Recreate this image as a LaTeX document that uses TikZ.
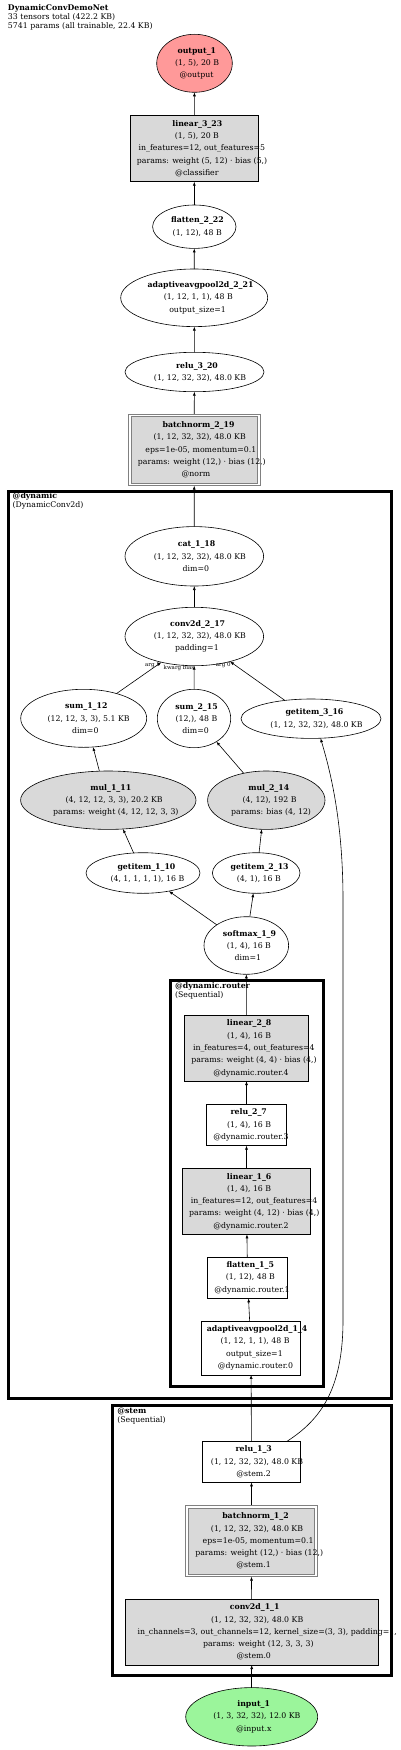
\documentclass[tikz,border=0pt]{standalone}
\usepackage{fontspec}
\setmainfont{DejaVu Serif}
\usetikzlibrary{shapes.geometric,arrows.meta}
\definecolor{nodegray}{HTML}{D9D9D9}
\definecolor{outpink}{HTML}{FF9999}
\definecolor{ingreen}{HTML}{9BF59B}
\definecolor{dblgray}{HTML}{808080}
\newcommand{\gl}[1]{\setbox0=\hbox{#1}\hspace*{0.12\wd0}\box0}
\begin{document}
\begin{tikzpicture}[x=1pt,y=-1pt,
  every node/.style={inner sep=0pt, outer sep=0pt},
  sz/.style 2 args={minimum width=#1pt, minimum height=#2pt},
  shp/.style={draw=black, line width=0.6pt},
  ell/.style={shp, ellipse},
  rbox/.style={shp, rectangle},
  gfill/.style={fill=nodegray},
  dblbox/.style={rectangle, draw=dblgray, line width=0.6pt, fill=nodegray},
  dblouter/.style={draw=dblgray, line width=0.6pt},
  txt/.style={font=\fontsize{7.8pt}{12.3pt}\selectfont, align=center, inner sep=0pt},
  clab/.style={font=\fontsize{7.8pt}{9pt}\selectfont, align=left, anchor=north west, inner sep=0pt},
  cluster/.style={draw=black, line width=3pt},
  arr/.style={-{Latex[length=4pt,width=3pt]}, line width=0.6pt},
  elab/.style={font=\fontsize{5.5pt}{6pt}\selectfont, inner sep=0pt}
]
\useasboundingbox (0,0) rectangle (400,1750);

% title
\node[clab] (title) at (8,5) {\textbf{DynamicConvDemoNet}\\33 tensors total (422.2 KB)\\5741 params (all trainable, 22.4 KB)};

% clusters
\draw[cluster] (8.3,491) rectangle (391.3,1398.7);
\node[clab] (labdyn) at (12.7,492.5) {\textbf{@dynamic}\\(DynamicConv2d)};
\draw[cluster] (170.7,980.7) rectangle (323.7,1386.8);
\node[clab] (labrouter) at (175,982.5) {\textbf{@dynamic.router}\\(Sequential)};
\draw[cluster] (112.5,1405.3) rectangle (391.3,1675.7);
\node[clab] (labstem) at (117.3,1408.2) {\textbf{@stem}\\(Sequential)};

% nodes
\node[ell, fill=outpink, sz={75.6}{58}, label={[txt]center:{\gl{\textbf{output\_1}}\\\gl{(1, 5), 20 B}\\\gl{@output}}}] (out1) at (194.5,63.3) {};
\node[rbox, gfill, sz={128.7}{66}, label={[txt]center:{\gl{\textbf{linear\_3\_23}}\\\gl{(1, 5), 20 B}\\\gl{in\_features=12, out\_features=5}\\\gl{params: weight (5, 12) · bias (5,)}\\\gl{@classifier}}}] (lin323) at (194.3,148.7) {};
\node[ell, sz={83.4}{43.4}, label={[txt]center:{\gl{\textbf{flatten\_2\_22}}\\\gl{(1, 12), 48 B}}}] (flat222) at (194.3,226.7) {};
\node[ell, sz={147}{57.6}, label={[txt]center:{\gl{\textbf{adaptiveavgpool2d\_2\_21}}\\\gl{(1, 12, 1, 1), 48 B}\\\gl{output\_size=1}}}] (aap221) at (194.2,297.8) {};
\node[ell, sz={139}{39.4}, label={[txt]center:{\gl{\textbf{relu\_3\_20}}\\\gl{(1, 12, 32, 32), 48.0 KB}}}] (relu320) at (194.5,372) {};
\node[dblbox, sz={126.5}{66.5}, label={[txt]center:{\gl{\textbf{batchnorm\_2\_19}}\\\gl{(1, 12, 32, 32), 48.0 KB}\\\gl{eps=1e-05, momentum=0.1}\\\gl{params: weight (12,) · bias (12,)}\\\gl{@norm}}}] (bn219) at (194.2,449.8) {};
\draw[dblouter] ([shift={(-2.6pt,2.6pt)}]bn219.north west) rectangle ([shift={(2.6pt,-2.6pt)}]bn219.south east);
\node[ell, sz={138.6}{59.4}, label={[txt]center:{\gl{\textbf{cat\_1\_18}}\\\gl{(1, 12, 32, 32), 48.0 KB}\\\gl{dim=0}}}] (cat118) at (194.3,556.3) {};
\node[ell, sz={138.6}{58.4}, label={[txt]center:{\gl{\textbf{conv2d\_2\_17}}\\\gl{(1, 12, 32, 32), 48.0 KB}\\\gl{padding=1}}}] (conv217) at (194.3,636.5) {};
\node[ell, sz={126}{58}, label={[txt]center:{\gl{\textbf{sum\_1\_12}}\\\gl{(12, 12, 3, 3), 5.1 KB}\\\gl{dim=0}}}] (sum112) at (83.7,718.3) {};
\node[ell, sz={73.4}{58.4}, label={[txt]center:{\gl{\textbf{sum\_2\_15}}\\\gl{(12,), 48 B}\\\gl{dim=0}}}] (sum215) at (194,718.5) {};
\node[ell, sz={140}{39.4}, label={[txt]center:{\gl{\textbf{getitem\_3\_16}}\\\gl{(1, 12, 32, 32), 48.0 KB}}}] (gi316) at (311,718.7) {};
\node[ell, gfill, sz={175.4}{58.4}, label={[txt]center:{\gl{\textbf{mul\_1\_11}}\\\gl{(4, 12, 12, 3, 3), 20.2 KB}\\\gl{params: weight (4, 12, 12, 3, 3)}}}] (mul111) at (108.3,800.2) {};
\node[ell, gfill, sz={117.4}{58.4}, label={[txt]center:{\gl{\textbf{mul\_2\_14}}\\\gl{(4, 12), 192 B}\\\gl{params: bias (4, 12)}}}] (mul214) at (266.3,800.2) {};
\node[ell, sz={114}{40.6}, label={[txt]center:{\gl{\textbf{getitem\_1\_10}}\\\gl{(4, 1, 1, 1, 1), 16 B}}}] (gi110) at (143,873) {};
\node[ell, sz={87.6}{40.6}, label={[txt]center:{\gl{\textbf{getitem\_2\_13}}\\\gl{(4, 1), 16 B}}}] (gi213) at (256.2,873) {};
\node[ell, sz={84.6}{57.6}, label={[txt]center:{\gl{\textbf{softmax\_1\_9}}\\\gl{(1, 4), 16 B}\\\gl{dim=1}}}] (soft19) at (246.3,945.5) {};
\node[rbox, gfill, sz={124}{65.6}, label={[txt]center:{\gl{\textbf{linear\_2\_8}}\\\gl{(1, 4), 16 B}\\\gl{in\_features=4, out\_features=4}\\\gl{params: weight (4, 4) · bias (4,)}\\\gl{@dynamic.router.4}}}] (lin28) at (246.5,1048.3) {};
\node[rbox, sz={80.3}{41.3}, label={[txt]center:{\gl{\textbf{relu\_2\_7}}\\\gl{(1, 4), 16 B}\\\gl{@dynamic.router.3}}}] (relu27) at (246.5,1125) {};
\node[rbox, gfill, sz={128.3}{65.7}, label={[txt]center:{\gl{\textbf{linear\_1\_6}}\\\gl{(1, 4), 16 B}\\\gl{in\_features=12, out\_features=4}\\\gl{params: weight (4, 12) · bias (4,)}\\\gl{@dynamic.router.2}}}] (lin16) at (246.5,1201.5) {};
\node[rbox, sz={80.3}{41}, label={[txt]center:{\gl{\textbf{flatten\_1\_5}}\\\gl{(1, 12), 48 B}\\\gl{@dynamic.router.1}}}] (flat15) at (247.5,1277.8) {};
\node[rbox, sz={99.3}{53.7}, label={[txt]center:{\gl{\textbf{adaptiveavgpool2d\_1\_4}}\\\gl{(1, 12, 1, 1), 48 B}\\\gl{output\_size=1}\\\gl{@dynamic.router.0}}}] (aap14) at (251,1348) {};
\node[rbox, sz={98.3}{41}, label={[txt]center:{\gl{\textbf{relu\_1\_3}}\\\gl{(1, 12, 32, 32), 48.0 KB}\\\gl{@stem.2}}}] (relu13) at (251.5,1461.8) {};
\node[dblbox, sz={126.5}{66}, label={[txt]center:{\gl{\textbf{batchnorm\_1\_2}}\\\gl{(1, 12, 32, 32), 48.0 KB}\\\gl{eps=1e-05, momentum=0.1}\\\gl{params: weight (12,) · bias (12,)}\\\gl{@stem.1}}}] (bn12) at (251.5,1541) {};
\draw[dblouter] ([shift={(-2.6pt,2.6pt)}]bn12.north west) rectangle ([shift={(2.6pt,-2.6pt)}]bn12.south east);
\node[rbox, gfill, sz={253.3}{66}, label={[txt]center:{\gl{\textbf{conv2d\_1\_1}}\\\gl{(1, 12, 32, 32), 48.0 KB}\\\gl{in\_channels=3, out\_channels=12, kernel\_size=(3, 3), padding=1,}\\\gl{params: weight (12, 3, 3, 3)}\\\gl{@stem.0}}}] (conv11) at (251.7,1632) {};
\node[ell, fill=ingreen, sz={132}{58.4}, label={[txt]center:{\gl{\textbf{input\_1}}\\\gl{(1, 3, 32, 32), 12.0 KB}\\\gl{@input.x}}}] (in1) at (251.7,1716.8) {};

% edges
\draw[arr] (lin323) -- (out1);
\draw[arr] (flat222) -- (lin323);
\draw[arr] (aap221) -- (flat222);
\draw[arr] (relu320) -- (aap221);
\draw[arr] ([yshift=2.6pt]bn219.north) -- (relu320);
\draw[arr] (cat118) -- ([yshift=-2.6pt]bn219.south);
\draw[arr] (conv217) -- (cat118);
\draw[arr] (sum112.37) -- (conv217.218);
\draw[arr] (sum215) -- (conv217);
\draw[arr] (gi316.145) -- (conv217.325);
\node[elab] (la1) at (152.5,665) {arg 1};
\node[elab] (lakb) at (179,668.5) {kwarg bias};
\node[elab] (la0) at (223.3,665) {arg 0};
\draw[arr] (mul111.107) -- (sum112.288);
\draw[arr] (mul214.130) -- (sum215.314);
\draw[arr] (gi110.115) -- (mul111.297);
\draw[arr] (gi213.82) -- (mul214.261);
\draw[arr] (soft19.145) -- (gi110.325);
\draw[arr] (soft19.83) -- (gi213.262);
\draw[arr] (lin28) -- (soft19);
\draw[arr] (relu27) -- (lin28);
\draw[arr] (lin16) -- (relu27);
\draw[arr] (flat15) -- (lin16);
\draw[arr] (aap14) -- (flat15);
\draw[arr] (relu13) -- (aap14);
\draw[arr] (relu13.30.2) .. controls (320,1420) and (343,1390) .. (343,1320) -- (343,900) .. controls (343,820) and (330,770) .. (gi316.296.7);
\draw[arr] ([yshift=2.6pt]bn12.north) -- (relu13);
\draw[arr] (conv11) -- ([yshift=-2.6pt]bn12.south);
\draw[arr] (in1) -- (conv11);
\end{tikzpicture}
\end{document}
